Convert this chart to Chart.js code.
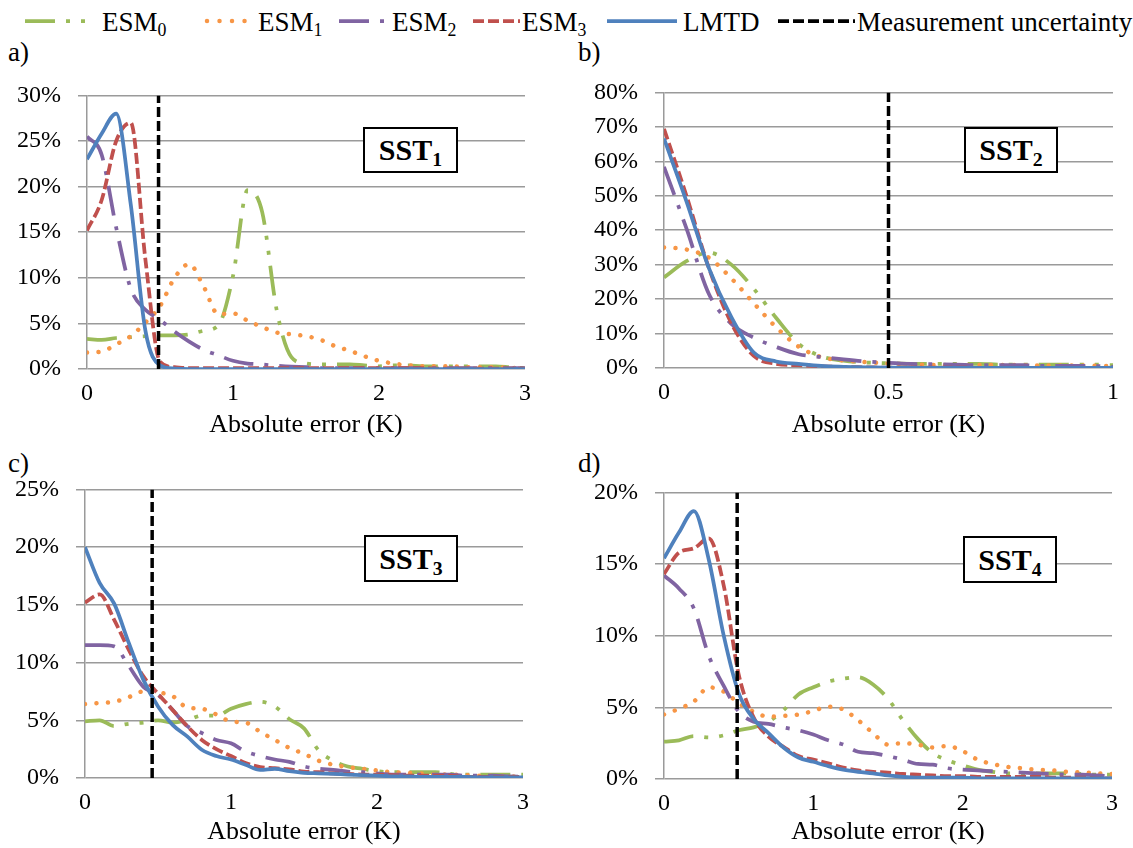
<!DOCTYPE html>
<html>
<head>
<meta charset="utf-8">
<script src="https://cdn.jsdelivr.net/npm/chart.js@4.4.0/dist/chart.umd.min.js"></script>
<style>
body { margin: 0; background: #fff; width: 1133px; height: 848px; position: relative; overflow: hidden;
       font-family: "Liberation Serif", "Times New Roman", serif; color: #000; }
.abs { position: absolute; }
.txt { position: absolute; font-size: 27px; line-height: 1; white-space: nowrap; }
.box { position: absolute; border: 2px solid #000; background: #fff; font-weight: bold; font-size: 30px;
       display: flex; align-items: center; justify-content: center; box-sizing: border-box; }
sub { font-size: 0.66em; vertical-align: -0.3em; line-height: 0; }
canvas { position: absolute; }
</style>
</head>
<body>

<!-- legend -->
<svg class="abs" style="left:0;top:0" width="1133" height="40">
  <line x1="25" y1="21" x2="88" y2="21" stroke="#9BBB59" stroke-width="3.75" stroke-dasharray="30 11 4 11 4 11"/>
  <line x1="207" y1="21" x2="257" y2="21" stroke="#F79646" stroke-width="4.5" stroke-linecap="round" stroke-dasharray="0.01 12.5"/>
  <line x1="339" y1="21" x2="386" y2="21" stroke="#8064A2" stroke-width="3.75" stroke-dasharray="30 11 4 11"/>
  <line x1="473" y1="21" x2="520" y2="21" stroke="#C0504D" stroke-width="3.75" stroke-dasharray="11 4"/>
  <line x1="607" y1="21" x2="677" y2="21" stroke="#4F81BD" stroke-width="3.75"/>
  <line x1="778" y1="21" x2="855" y2="21" stroke="#000" stroke-width="3.75" stroke-dasharray="11 4"/>
</svg>
<div class="txt" style="left:102px;top:9px">ESM<sub>0</sub></div>
<div class="txt" style="left:258px;top:9px">ESM<sub>1</sub></div>
<div class="txt" style="left:392px;top:9px">ESM<sub>2</sub></div>
<div class="txt" style="left:522px;top:9px">ESM<sub>3</sub></div>
<div class="txt" style="left:683px;top:9px">LMTD</div>
<div class="txt" style="left:857px;top:9px">Measurement uncertainty</div>

<div class="txt" style="left:8px;top:39px">a)</div>
<div class="txt" style="left:578px;top:39px">b)</div>
<div class="txt" style="left:8px;top:450px">c)</div>
<div class="txt" style="left:578px;top:450px">d)</div>

<canvas id="chartA" width="545" height="377" style="left:0;top:64px"></canvas>
<canvas id="chartB" width="558" height="380" style="left:575px;top:61px"></canvas>
<canvas id="chartC" width="545" height="390" style="left:0;top:458px"></canvas>
<canvas id="chartD" width="558" height="387" style="left:575px;top:461px"></canvas>

<div class="box" style="left:363px;top:127px;width:95px;height:46px"><span>SST<sub>1</sub></span></div>
<div class="box" style="left:964px;top:127px;width:94px;height:46px"><span>SST<sub>2</sub></span></div>
<div class="box" style="left:364px;top:535px;width:94px;height:47px"><span>SST<sub>3</sub></span></div>
<div class="box" style="left:963px;top:536px;width:94px;height:47px"><span>SST<sub>4</sub></span></div>

<script>
// x values (absolute error, K)
const xsWide = [0,0.1,0.2,0.3,0.4,0.5,0.6,0.7,0.8,0.9,1.0,1.1,1.2,1.3,1.4,1.5,1.6,1.7,1.8,1.9,2.0,2.1,2.2,2.3,2.4,2.5,2.6,2.7,2.8,2.9,3.0]
const xsNarrow = [0,0.05,0.1,0.15,0.2,0.25,0.3,0.35,0.4,0.45,0.5,0.55,0.6,0.65,0.7,0.75,0.8,0.85,0.9,0.95,1.0]

// a) SST1 (%)
const esm0A = [3.3,3.2,3.4,3.5,3.6,3.7,3.7,3.8,4.2,4.8,10.2,19.6,17.2,6.4,1.3,0.6,0.5,0.5,0.5,0.4,0.3,0.4,0.4,0.3,0.3,0.3,0.3,0.3,0.3,0.2,0.1]
const esm1A = [1.8,1.9,2.7,3.6,5.1,6.9,10,11.5,9,6,6.1,5.3,4.6,4,3.8,3.6,3.2,2.5,2,1.4,0.9,0.6,0.4,0.3,0.3,0.3,0.2,0.2,0.2,0.1,0.1]
const esm2A = [25.5,23.5,15.5,8.8,6.5,5.4,4.1,3,2.1,1.5,0.9,0.6,0.5,0.35,0.25,0.2,0.1,0.1,0.1,0.1,0.1,0.1,0.1,0.1,0.1,0.1,0.1,0.1,0.1,0.1,0.1]
const esm3A = [15.2,18.5,25,27,12,0.8,0.2,0.1,0.1,0.1,0.1,0.1,0.1,0.1,0.1,0.1,0.1,0.1,0.1,0.1,0.1,0.1,0.1,0.1,0.05,0.05,0.05,0.05,0.05,0.05,0.05]
const lmtdA = [23,25.8,28,18,4.2,0.4,0.05,0,0,0,0,0,0,0,0,0,0,0,0,0,0,0,0,0,0,0,0,0,0,0,0]

// b) SST2 (%)
const esm0B = [26.3,31,33.5,30,23,14.5,7,3.4,2.1,1.6,1.4,1.2,1.2,1.2,1.2,1.0,1.0,1.0,1.0,1.0,0.8]
const esm1B = [35,34.4,32,26,18.8,11.8,6.2,3.2,2.2,1.7,1.3,1.0,0.9,0.9,0.9,0.9,0.8,0.7,0.7,0.7,0.5]
const esm2B = [58.4,40.5,21.5,12.8,8.8,6.1,4.0,3.2,2.5,1.9,1.5,1.2,1.1,1.0,0.8,0.8,0.8,0.6,0.6,0.6,0.3]
const esm3B = [69.4,50,29,13,3.5,1.2,0.8,0.5,0.3,0.2,0.1,0.1,0.1,0.1,0.05,0.05,0.05,0.05,0.05,0.05,0.05]
const lmtdB = [66.6,48.4,29,14.8,4.5,1.9,1.2,0.6,0.35,0.2,0.1,0.05,0.05,0.05,0.05,0.05,0.05,0.05,0.05,0.05,0.05]

// c) SST3 (%)
const esm0C = [4.9,5.0,4.5,4.7,4.8,5.0,4.8,5.0,5.4,5.4,6.0,6.4,6.6,6.2,5.1,4.3,2.4,1.5,1.0,0.8,0.6,0.5,0.5,0.5,0.5,0.35,0.3,0.3,0.3,0.3,0.3]
const esm1C = [6.4,6.5,6.6,7.0,7.5,7.4,7.1,6.1,6.0,5.5,4.9,4.8,4.0,3.3,2.6,2.1,1.5,1.15,0.95,0.8,0.65,0.5,0.45,0.4,0.3,0.3,0.25,0.2,0.2,0.15,0.1]
const esm2C = [11.5,11.5,11.4,9.7,7.9,7.2,5.9,4.5,3.9,3.3,3.0,2.3,1.9,1.6,1.4,1.0,0.8,0.7,0.55,0.5,0.4,0.3,0.3,0.3,0.3,0.3,0.2,0.2,0.2,0.15,0.1]
const esm3C = [15.2,15.9,13.7,11.1,8.8,7.3,5.9,4.5,3.3,2.5,1.9,1.3,0.95,0.85,0.75,0.55,0.5,0.4,0.35,0.3,0.3,0.25,0.2,0.2,0.2,0.2,0.1,0.1,0.1,0.1,0.1]
const lmtdC = [20,16.9,15.1,11.7,8.5,6.2,4.6,3.6,2.45,1.9,1.6,1.15,0.7,0.8,0.6,0.45,0.4,0.35,0.3,0.25,0.2,0.15,0.15,0.1,0.1,0.1,0.1,0.05,0.05,0.05,0.05]

// d) SST4 (%)
const esm0D = [2.6,2.7,3.0,2.9,3.05,3.4,3.6,4.0,4.8,5.9,6.4,6.8,7.0,7.1,6.6,5.6,4.1,2.8,1.8,1.3,0.95,0.65,0.5,0.4,0.4,0.4,0.4,0.4,0.35,0.3,0.3]
const esm1D = [4.5,4.9,5.4,6.4,6.1,5.3,4.7,4.35,4.4,4.5,4.75,5.05,4.85,4.1,3.2,2.4,2.5,2.4,2.2,2.3,1.95,1.35,1.05,0.85,0.75,0.65,0.6,0.5,0.45,0.4,0.35]
const esm2D = [14.2,13.3,11.9,8.6,6.5,4.7,4.0,3.85,3.6,3.4,3.1,2.7,2.4,1.9,1.8,1.6,1.35,1.05,1.0,0.75,0.65,0.6,0.55,0.5,0.45,0.4,0.35,0.3,0.3,0.25,0.2]
const esm3D = [14.3,15.8,16.1,16.8,13.5,7.3,4.3,2.95,2.25,1.6,1.35,1.1,0.8,0.6,0.5,0.45,0.35,0.3,0.25,0.2,0.2,0.15,0.15,0.15,0.15,0.15,0.1,0.1,0.1,0.05,0.05]
const lmtdD = [15.4,17.2,18.7,15.3,10,6,4.2,3.2,2.2,1.5,1.2,0.9,0.65,0.5,0.4,0.25,0.15,0.1,0.1,0.1,0.1,0.05,0.05,0.05,0.05,0.05,0.05,0.05,0.05,0.05,0.05]

// measurement uncertainty per sensor (K) and axis ranges
const uncertainty = [0.49, 0.5, 0.46, 0.49]
const xMaxes = [3, 1, 3, 3]
const xSteps = [1, 0.5, 1, 1]
const yMaxes = [30, 80, 25, 20]
const ySteps = [5, 10, 5, 5]

// line styles: ESM0, ESM1, ESM2, ESM3, LMTD
const styles = [
    { color: '#9BBB59', dash: [30, 11, 4, 11, 4, 11], cap: 'butt', width: 3.75 },
    { color: '#F79646', dash: [0.01, 11.5], cap: 'round', width: 4.5 },
    { color: '#8064A2', dash: [30, 11, 4, 11], cap: 'butt', width: 3.75 },
    { color: '#C0504D', dash: [11, 4], cap: 'butt', width: 3.75 },
    { color: '#4F81BD', dash: [], cap: 'butt', width: 3.75 },
]

Chart.defaults.font.family = '"Liberation Serif", "Times New Roman", serif'
Chart.defaults.color = '#000'

// build one panel
function makePanel(id, idx, xs, series, box) {
    const datasets = series.map((ys, i) => ({
        data: xs.map((x, j) => ({ x: x, y: ys[j] })),
        borderColor: styles[i].color,
        borderWidth: styles[i].width,
        borderDash: styles[i].dash,
        borderCapStyle: styles[i].cap,
        cubicInterpolationMode: 'monotone',
        pointRadius: 0,
        fill: false,
        order: 5 - i,
    }))
    // vertical dashed line for the measurement uncertainty
    datasets.push({
        data: [{ x: uncertainty[idx], y: 0 }, { x: uncertainty[idx], y: yMaxes[idx] }],
        borderColor: '#000',
        borderWidth: 3.5,
        borderDash: [10, 4],
        pointRadius: 0,
        order: 0,
    })

    new Chart(document.getElementById(id), {
        type: 'line',
        data: { datasets: datasets },
        options: {
            responsive: false,
            animation: false,
            layout: { padding: { top: 0, right: box.right, left: 0, bottom: 0 } },
            plugins: { legend: { display: false }, tooltip: { enabled: false } },
            scales: {
                x: {
                    type: 'linear',
                    min: 0,
                    max: xMaxes[idx],
                    grid: { display: false, drawTicks: false },
                    border: { display: false },
                    ticks: { stepSize: xSteps[idx], font: { size: 24 }, padding: 10, maxRotation: 0, autoSkip: false,
                             callback: (v) => String(v) },
                    title: { display: true, text: 'Absolute error (K)', font: { size: 26 }, padding: { top: 0, bottom: 0 } },
                    afterFit: (s) => { s.height = box.xh },
                },
                y: {
                    min: 0,
                    max: yMaxes[idx],
                    grid: { color: '#9a9a9a', lineWidth: 1.5, tickLength: 9, drawTicks: true },
                    border: { display: true, color: '#9a9a9a', width: 1.5 },
                    ticks: { stepSize: ySteps[idx], font: { size: 24 }, padding: 17, callback: (v) => v + '%' },
                    afterFit: (s) => { s.width = box.yw },
                },
            },
        },
    })
}

makePanel('chartA', 0, xsWide, [esm0A, esm1A, esm2A, esm3A, lmtdA], { right: 20, yw: 87, xh: 72 })
makePanel('chartB', 1, xsNarrow, [esm0B, esm1B, esm2B, esm3B, lmtdB], { right: 20, yw: 89, xh: 73 })
makePanel('chartC', 2, xsWide, [esm0C, esm1C, esm2C, esm3C, lmtdC], { right: 22, yw: 85, xh: 70 })
makePanel('chartD', 3, xsWide, [esm0D, esm1D, esm2D, esm3D, lmtdD], { right: 21, yw: 89, xh: 69 })
</script>
</body>
</html>
